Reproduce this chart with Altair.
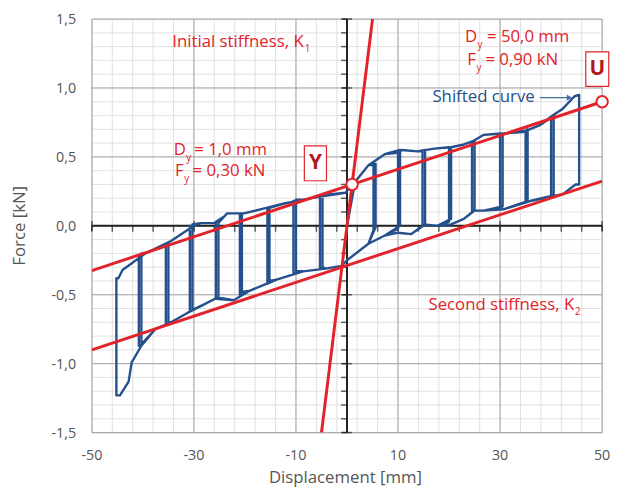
import altair as alt
import pandas as pd

# ---------------- data ----------------
# upper branch of the hysteresis (loading towards +), left -> right
upper_x = [-44.8, -44.0, -39.5, -34.5, -30.0, -28.7, -26.0, -24.0, -23.5, -20.2, -15.8, -12.5, -8.6, -5.5, -0.3,
           1.6, 4.2, 7.4, 10.7, 13.8, 17.1, 20.4, 22.9, 24.5, 26.8, 30.7, 34.5, 37.8, 40.3, 42.3, 44.6]
upper_y = [-0.38, -0.32, -0.20, -0.11, 0.00, 0.02, 0.02, 0.07, 0.09, 0.09, 0.13, 0.16, 0.19, 0.21, 0.24,
           0.32, 0.44, 0.52, 0.55, 0.54, 0.56, 0.57, 0.59, 0.61, 0.66, 0.67, 0.68, 0.73, 0.80, 0.85, 0.94]
# lower branch (unloading towards -), right -> left
lower_x = [44.8, 42.3, 35.9, 30.7, 26.8, 24.9, 22.9, 20.4, 17.7, 15.2, 12.6, 10.0, 7.4, 4.2, 0.0, -1.0, -4.2,
           -8.6, -13.8, -19.0, -22.2, -25.4, -28.0, -31.2, -34.5, -37.6, -40.3, -42.2, -42.8, -44.5]
lower_y = [0.30, 0.23, 0.18, 0.12, 0.11, 0.11, 0.05, 0.01, 0.00, 0.01, -0.06, -0.05, -0.07, -0.13, -0.25, -0.29, -0.31,
           -0.33, -0.39, -0.47, -0.54, -0.52, -0.57, -0.63, -0.70, -0.75, -0.87, -0.99, -1.13, -1.23]
# reversal points, first cycle of each amplitude
pos_rev_x = [5.2, 10.0, 14.8, 20.0, 24.5, 30.0, 35.0, 40.0, 45.5]
pos_rev_top = [0.44, 0.53, 0.54, 0.57, 0.61, 0.67, 0.69, 0.79, 0.95]
pos_rev_bot = [-0.03, -0.02, 0.00, 0.03, 0.10, 0.13, 0.17, 0.21, 0.30]
neg_rev_x = [-4.8, -10.0, -15.2, -20.6, -25.2, -30.3, -35.0, -40.3, -45.2]
neg_rev_bot = [-0.30, -0.33, -0.40, -0.48, -0.53, -0.61, -0.70, -0.86, -1.23]
neg_rev_top = [0.22, 0.19, 0.13, 0.09, 0.02, 0.01, -0.12, -0.20, -0.38]
# repeated cycle of each amplitude (not for the last one)
pos_rev_x2 = [5.6, 10.4, 15.3, 20.4, 25.0, 30.5, 35.4, 40.5]
pos_rev_top2 = [0.45, 0.55, 0.55, 0.57, 0.62, 0.67, 0.70, 0.80]
pos_rev_bot2 = [-0.01, 0.00, 0.01, 0.05, 0.11, 0.14, 0.18, 0.22]
neg_rev_x2 = [-5.3, -10.5, -15.6, -21.0, -25.7, -30.8, -35.5, -40.8]
neg_rev_bot2 = [-0.31, -0.35, -0.42, -0.50, -0.53, -0.62, -0.71, -0.87]
neg_rev_top2 = [0.22, 0.18, 0.13, 0.09, 0.03, 0.00, -0.13, -0.22]

# bilinear idealisation
k1_x = [-5.0, 5.0]
k1_y = [-1.5, 1.5]
k2_x = [-50.0, 50.0]
k2_upper_y = [-0.3245, 0.90]
k2_lower_y = [-0.90, 0.3245]
y_point = (1.0, 0.30)
u_point = (50.0, 0.90)

x_labels = [-50, -30, -10, 10, 30, 50]
y_labels = [-1.5, -1.0, -0.5, 0.0, 0.5, 1.0, 1.5]
minor_x = [-50 + 4 * i for i in range(26)]
minor_y = [round(-1.5 + 0.1 * i, 1) for i in range(31)]

# ---------------- build the cyclic path ----------------
cycles = []
for i in range(len(pos_rev_x)):
    cycles.append((pos_rev_x[i], pos_rev_top[i], pos_rev_bot[i], neg_rev_x[i], neg_rev_bot[i], neg_rev_top[i]))
    if i < len(pos_rev_x2):
        cycles.append((pos_rev_x2[i], pos_rev_top2[i], pos_rev_bot2[i],
                       neg_rev_x2[i], neg_rev_bot2[i], neg_rev_top2[i]))

px, py = [0.0], [0.0]
prev = 0.0
for xp, tp, bp, xn, bn, tn in cycles:
    for ux, uy in zip(upper_x, upper_y):
        if prev + 0.3 < ux < xp - 0.5:
            px.append(ux); py.append(uy)
    px += [xp, xp]; py += [tp, bp]
    for lx, ly in zip(lower_x, lower_y):
        if xn + 0.3 < lx < xp - 0.5:
            px.append(lx); py.append(ly)
    px += [xn, xn]; py += [bn, tn]
    prev = xn
for ux, uy in zip(upper_x, upper_y):
    if prev < ux < 0:
        px.append(ux); py.append(uy)
curve = pd.DataFrame({"x": px, "y": py, "o": list(range(len(px)))})

RED = "#e3232a"
DARKRED = "#b0181f"
BLUE = "#24508c"
GRAY = "#555555"
FONT = "Open Sans"

xs = alt.Scale(domain=[-50, 50], nice=False, zero=False)
ys = alt.Scale(domain=[-1.5, 1.5], nice=False, zero=False)

one = pd.DataFrame({"a": [0]})


def dx(v):
    return alt.datum(v, scale=xs, axis=None)


def dy(v):
    return alt.datum(v, scale=ys, axis=None)


def X(f):
    return alt.X(f, scale=xs, axis=None)


def Y(f):
    return alt.Y(f, scale=ys, axis=None)


# grid: solid thin lines (minor light, major darker)
def vgrid(vals, color, width):
    return alt.Chart(pd.DataFrame({"gx": vals})).mark_rule(color=color, strokeWidth=width).encode(
        x=X("gx:Q"), y=dy(1.5), y2=alt.datum(-1.5))


def hgrid(vals, color, width):
    return alt.Chart(pd.DataFrame({"gy": vals})).mark_rule(color=color, strokeWidth=width).encode(
        y=Y("gy:Q"), x=dx(-50), x2=alt.datum(50))


grid_vx = vgrid(minor_x, "#e1e1e1", 1)
grid_hy = hgrid(minor_y, "#e1e1e1", 1)
major_vx = vgrid(x_labels, "#a6a6a6", 1)
major_hy = hgrid(y_labels, "#a6a6a6", 1)

# tick labels
xlab_df = pd.DataFrame({"x": x_labels, "t": [str(v) for v in x_labels]})
ylab_df = pd.DataFrame({"y": y_labels, "t": [f"{v:.1f}".replace(".", ",") for v in y_labels]})
x_ticklabels = alt.Chart(xlab_df).mark_text(fontSize=14.5, font=FONT, color=GRAY, align="center",
                                            baseline="alphabetic", dy=28).encode(
    x=X("x:Q"), y=dy(-1.5), text="t:N")
y_ticklabels = alt.Chart(ylab_df).mark_text(fontSize=14.5, font=FONT, color=GRAY, align="right",
                                            baseline="alphabetic", dx=-16, dy=5).encode(
    y=Y("y:Q"), x=dx(-50), text="t:N")

zero_x = alt.Chart(one).mark_rule(color="#222222", strokeWidth=2).encode(
    y=dy(0), x=dx(-50), x2=alt.datum(50))
zero_y = alt.Chart(one).mark_rule(color="#222222", strokeWidth=2).encode(
    x=dx(0), y=dy(-1.5), y2=alt.datum(1.5))
ticks_x = alt.Chart(pd.DataFrame({"x": minor_x})).mark_tick(
    orient="vertical", size=6, thickness=1.5, color="#222222", yOffset=3).encode(x=X("x:Q"), y=dy(0))
ticks_xm = alt.Chart(pd.DataFrame({"x": x_labels})).mark_tick(
    orient="vertical", size=10, thickness=1.5, color="#222222").encode(x=X("x:Q"), y=dy(0))
ticks_y = alt.Chart(pd.DataFrame({"y": minor_y})).mark_tick(
    orient="horizontal", size=6, thickness=1.5, color="#222222", xOffset=-3).encode(y=Y("y:Q"), x=dx(0))
ticks_ym = alt.Chart(pd.DataFrame({"y": y_labels})).mark_tick(
    orient="horizontal", size=10, thickness=1.5, color="#222222").encode(y=Y("y:Q"), x=dx(0))

hyst = alt.Chart(curve).mark_line(color=BLUE, strokeWidth=2.4, strokeJoin="round").encode(
    x=X("x:Q"), y=Y("y:Q"), order="o:Q")

seg_df = pd.DataFrame({
    "x": k1_x + k2_x + k2_x,
    "y": k1_y + k2_upper_y + k2_lower_y,
    "s": ["k1", "k1", "k2u", "k2u", "k2l", "k2l"],
})
segs = alt.Chart(seg_df).mark_line(color=RED, strokeWidth=3, clip=True).encode(
    x=X("x:Q"), y=Y("y:Q"), detail="s:N")

pts = alt.Chart(pd.DataFrame({"x": [y_point[0], u_point[0]], "y": [y_point[1], u_point[1]]})).mark_point(
    shape="circle", size=135, filled=True, fill="white", stroke=RED, strokeWidth=2, opacity=1).encode(
    x=X("x:Q"), y=Y("y:Q"))

# label boxes and letters (annotation table)
box_df = pd.DataFrame({"x1": [-8.36, 46.8], "x2": [-4.02, 51.3], "y1": [0.58, 1.262], "y2": [0.327, 1.012],
                       "t": ["Y", "U"], "tx": [-6.2, 49.05], "ty": [0.452, 1.137]})
boxes = alt.Chart(box_df).mark_rect(fill="white", stroke=RED, strokeWidth=1.2).encode(
    x=X("x1:Q"), x2="x2:Q", y=Y("y1:Q"), y2="y2:Q")
letters = alt.Chart(box_df).mark_text(fontSize=21, font=FONT, fontWeight="bold", color=DARKRED,
                                      align="center", baseline="middle").encode(
    x=X("tx:Q"), y=Y("ty:Q"), text="t:N")

# annotation texts: (text, x, y, size, colour)
right_txt = pd.DataFrame([
    ("Initial stiffness, K", -8.49, 1.300, 17, RED),
    ("D", -31.57, 0.513, 17, RED),
    ("F", -32.0, 0.358, 17, RED),
    ("D", 25.49, 1.336, 17, RED),
    ("F", 25.24, 1.169, 17, RED),
    ("Second stiffness, K", 44.53, -0.608, 17, RED),
    ("Shifted curve", 36.79, 0.895, 17, BLUE),
], columns=["t", "x", "y", "s", "c"])
left_txt = pd.DataFrame([
    ("1", -8.3, 1.262, 10, RED),
    ("y", -31.5, 0.470, 10, RED),
    ("= 1,0 mm", -29.94, 0.513, 17, RED),
    ("y", -31.9, 0.315, 10, RED),
    ("= 0,30 kN", -30.27, 0.358, 17, RED),
    ("y", 25.59, 1.293, 10, RED),
    ("= 50,0 mm", 27.43, 1.336, 17, RED),
    ("y", 25.4, 1.126, 10, RED),
    ("= 0,90 kN", 27.12, 1.169, 17, RED),
    ("2", 44.7, -0.646, 10, RED),
], columns=["t", "x", "y", "s", "c"])
title_txt = pd.DataFrame([
    ("Displacement [mm]", -0.3, -1.865, 0),
    ("Force [kN]", -63.2, 0.0, 270),
], columns=["t", "x", "y", "a"])


def text_layer(df, align):
    return alt.Chart(df).mark_text(font=FONT, align=align, baseline="alphabetic").encode(
        x=X("x:Q"), y=Y("y:Q"), text="t:N",
        size=alt.Size("s:Q", scale=None, legend=None), color=alt.Color("c:N", scale=None, legend=None))


texts_r = text_layer(right_txt, "right")
texts_l = text_layer(left_txt, "left")
titles = alt.Chart(title_txt).mark_text(font=FONT, align="center", baseline="alphabetic",
                                        fontSize=17, color=GRAY).encode(
    x=X("x:Q"), y=Y("y:Q"), text="t:N", angle=alt.Angle("a:Q", scale=None, legend=None))

arrow_line = alt.Chart(one).mark_rule(color="#4a6ea6", strokeWidth=1.3).encode(
    x=dx(37.8), x2=alt.datum(43.3), y=dy(0.93))
arrow_head = alt.Chart(one).mark_point(shape="triangle-right", size=40, filled=True,
                                       color="#4a6ea6", opacity=1).encode(x=dx(43.6), y=dy(0.93))

chart = alt.layer(
    grid_vx, grid_hy, major_vx, major_hy, zero_x, zero_y, ticks_x, ticks_xm, ticks_y, ticks_ym,
    x_ticklabels, y_ticklabels,
    hyst, segs, boxes, letters, pts, texts_r, texts_l, titles, arrow_line, arrow_head
).properties(
    width=517, height=419,
    autosize=alt.AutoSizeParams(type="none"),
    padding={"left": 85, "top": 8, "right": 9, "bottom": 57},
).configure_view(stroke=None).configure(background="white")

chart.save("out.html", embed_options={"renderer": "svg", "actions": False})
